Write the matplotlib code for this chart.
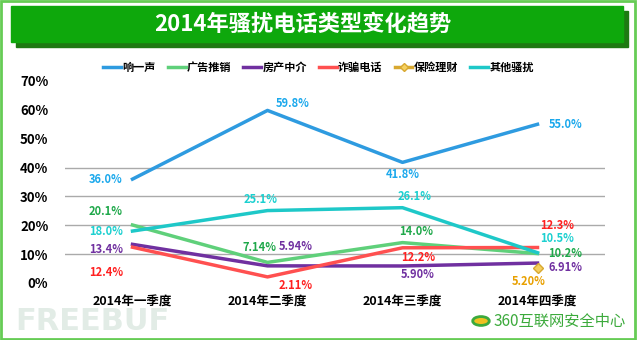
import numpy as np
import matplotlib
matplotlib.use('Agg')
import matplotlib.pyplot as plt
from matplotlib.patches import Rectangle, Circle
from matplotlib.lines import Line2D

plt.rcParams['font.family'] = ['Noto Sans CJK SC', 'DejaVu Sans']

quarters = ['2014年一季度', '2014年二季度', '2014年三季度', '2014年四季度']
names = ['响一声', '广告推销', '房产中介', '诈骗电话', '保险理财', '其他骚扰']
xiangyisheng = [36.0, 59.8, 41.8, 55.0]
guanggao = [20.1, 7.14, 14.0, 10.2]
fangchan = [13.4, 5.94, 5.90, 6.91]
zhapian = [12.4, 2.11, 12.2, 12.3]
baoxian = [np.nan, np.nan, np.nan, 5.20]
qita = [18.0, 25.1, 26.1, 10.5]
label_texts = {
    '响一声': ['36.0%', '59.8%', '41.8%', '55.0%'],
    '广告推销': ['20.1%', '7.14%', '14.0%', '10.2%'],
    '房产中介': ['13.4%', '5.94%', '5.90%', '6.91%'],
    '诈骗电话': ['12.4%', '2.11%', '12.2%', '12.3%'],
    '保险理财': [None, None, None, '5.20%'],
    '其他骚扰': ['18.0%', '25.1%', '26.1%', '10.5%'],
}

series = [xiangyisheng, guanggao, fangchan, zhapian, baoxian, qita]
line_colors = ['#2E9BE0', '#5FD07A', '#7030A0', '#FF5050', '#D8A830', '#1EC8C8']
text_colors = ['#1AA8EC', '#1FA84A', '#7030A0', '#FF2020', '#E8A000', '#1CD0D0']

# label offsets in points (dx, dy, ha)
offsets = {
    '响一声': [(-7, 0, 'right'), (6, 5, 'left'), (0, -9, 'center'), (8, 0, 'left')],
    '广告推销': [(-7, 10, 'right'), (-6, 11, 'center'), (10, 8, 'center'), (8, 0, 'left')],
    '房产中介': [(-7, -4, 'right'), (20, 14, 'center'), (11, -6, 'center'), (8, -3, 'left')],
    '诈骗电话': [(-7, -18, 'right'), (20, -6, 'center'), (11, -7, 'center'), (14, 16, 'center')],
    '保险理财': [(None, None, None)] * 3 + [(-6, -10, 'center')],
    '其他骚扰': [(-7, 0, 'right'), (-5, 8, 'center'), (9, 8, 'center'), (14, 10, 'center')],
}

fig = plt.figure(figsize=(6.37, 3.40), dpi=100)

# outer frame
fig.patches.append(Rectangle((0.002, 0.003), 0.995, 0.993, transform=fig.transFigure,
                             fill=False, edgecolor='#66CC55', linewidth=2.0))
# title bar with shadow
fig.patches.append(Rectangle((16 / 637, 1 - 47 / 340), 612 / 637, 36 / 340,
                             transform=fig.transFigure, color='#1E7A12', zorder=1))
fig.patches.append(Rectangle((11 / 637, 1 - 42 / 340), 612 / 637, 36 / 340,
                             transform=fig.transFigure, color='#0EA80C', zorder=2))
fig.text(0.475, 1 - 24 / 340, '2014年骚扰电话类型变化趋势', color='white', fontsize=16,
         fontweight='bold', ha='center', va='center', zorder=3)

# watermarks
fig.text(15 / 637, 1 - 322 / 340, 'FREEBUF', fontsize=22, fontweight='heavy',
         family='DejaVu Sans', color='#E2ECE6', ha='left', va='center', zorder=0)
fig.patches.append(Circle((481 / 637, 1 - 321 / 340), 0.013, transform=fig.transFigure,
                          facecolor='#F0C020', edgecolor='#3CAA3C', linewidth=2))
fig.text(494 / 637, 1 - 321 / 340, '360互联网安全中心', fontsize=11, color='#3CAA3C',
         ha='left', va='center')

ax = fig.add_axes([65 / 637, 1 - 283 / 340, 540 / 637, 202 / 340])
x = np.arange(len(quarters))

handles = []
for name, vals, lc, tc in zip(names, series, line_colors, text_colors):
    if name == '保险理财':
        ax.plot(x, vals, color=lc, marker='D', markersize=5, markerfacecolor='#F5D060',
                markeredgecolor=lc, linewidth=2.5, zorder=4)
        handles.append(Line2D([], [], color=lc, marker='D', markersize=4,
                              markerfacecolor='#F5D060', linewidth=2.5))
    else:
        ax.plot(x, vals, color=lc, linewidth=2.5, zorder=3)
        handles.append(Line2D([], [], color=lc, linewidth=2.5))
    for i, (v, t) in enumerate(zip(vals, label_texts[name])):
        if t is None:
            continue
        dx, dy, ha = offsets[name][i]
        ax.annotate(t, (x[i], v), xytext=(dx, dy), textcoords='offset points',
                    ha=ha, va='center', color=tc, fontsize=8, fontweight='bold', zorder=5)

for g in [10, 20, 30, 40]:
    ax.axhline(g, color='#AAAAAA', linewidth=1, zorder=1)

ax.set_xlim(-0.5, 3.5)
ax.set_ylim(0, 70)
ax.set_yticks(range(0, 71, 10))
ax.set_yticklabels([f'{v}%' for v in range(0, 71, 10)], fontsize=9.5, fontweight='bold')
ax.set_xticks(x)
ax.set_xticklabels(quarters, fontsize=9, fontweight='bold')
ax.tick_params(length=0)
ax.tick_params(axis='y', pad=12)
ax.tick_params(axis='x', pad=9)
for s in ax.spines.values():
    s.set_visible(False)
ax.patch.set_alpha(0)

fig.legend(handles, names, loc='center', bbox_to_anchor=(0.5, 1 - 67 / 340), ncol=6,
           frameon=False, prop={'size': 8, 'weight': 'bold'}, handlelength=1.6,
           handletextpad=0.1, columnspacing=1.1)

fig.savefig('out.png', dpi=100)
